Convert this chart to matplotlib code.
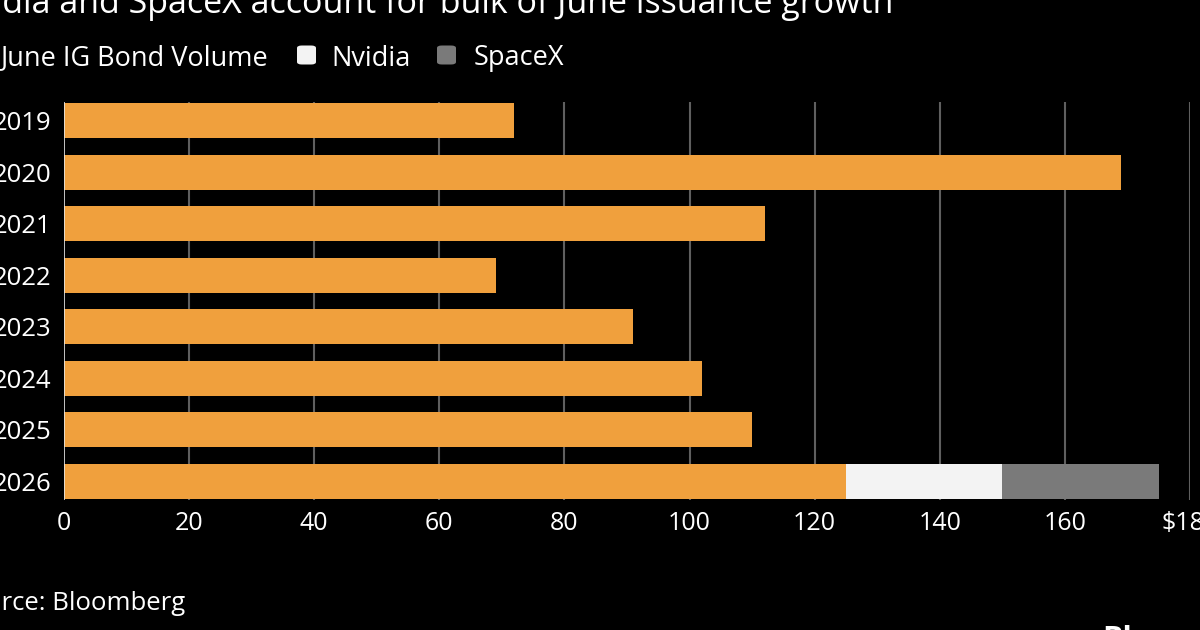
import matplotlib
matplotlib.use("Agg")
import matplotlib.pyplot as plt
from matplotlib.patches import FancyBboxPatch

plt.rcParams['font.family'] = ['Open Sans', 'DejaVu Sans']

years = ["2019", "2020", "2021", "2022", "2023", "2024", "2025", "2026"]
june_ig = [72, 169, 112, 69, 91, 102, 110, 125]
nvidia = [0, 0, 0, 0, 0, 0, 0, 25]
spacex = [0, 0, 0, 0, 0, 0, 0, 25]
xticks = [0, 20, 40, 60, 80, 100, 120, 140, 160, 180]
xticklabels = ["0", "20", "40", "60", "80", "100", "120", "140", "160", "$180"]

ORANGE = "#F0A03D"
WHITE = "#F3F3F3"
GRAY = "#7A7A7A"
BG = "#000000"

W, H = 1200, 630
fig = plt.figure(figsize=(12, 6.3), dpi=100, facecolor=BG)
ax = fig.add_axes([64 / W, 1 - 500 / H, (1190 - 64) / W, (500 - 102) / H], facecolor=BG)

ypos = list(range(len(years)))
bh = 0.68
ax.barh(ypos, june_ig, height=bh, color=ORANGE, zorder=3)
left2 = [a for a in june_ig]
ax.barh(ypos, nvidia, left=left2, height=bh, color=WHITE, zorder=3)
left3 = [a + b for a, b in zip(june_ig, nvidia)]
ax.barh(ypos, spacex, left=left3, height=bh, color=GRAY, zorder=3)

ax.set_xlim(0, 180)
ax.set_ylim(len(years) - 1 + 0.36, -0.36)
ax.set_xticks(xticks)
ax.set_xticklabels(xticklabels)
ax.set_yticks(ypos)
ax.set_yticklabels(years)
for x in xticks[1:]:
    ax.axvline(x, color="#5f5f5f", lw=1.5, zorder=1)
ax.axvline(0, color="#e6e6e6", lw=1.2, zorder=4)
for s in ax.spines.values():
    s.set_visible(False)
ax.tick_params(axis="both", length=0, colors="white")
ax.tick_params(axis="x", labelsize=18, pad=8)
ax.tick_params(axis="y", labelsize=18.5, pad=9)

# title (cut at left in reference)
fig.text(893 / W, 1 - 13 / H, "Nvidia and SpaceX account for bulk of June issuance growth",
         ha="right", va="baseline", color="white", fontsize=24.5)

# legend
leg_y = 1 - 55 / H
def sq(x0, color):
    p = FancyBboxPatch((x0 / W, leg_y - 9.5 / H), 19 / W, 19 / H,
                       boxstyle="round,pad=0,rounding_size=0.004",
                       transform=fig.transFigure, facecolor=color, edgecolor="none")
    fig.patches.append(p)
sq(-40, ORANGE)
fig.text(268 / W, leg_y, "June IG Bond Volume", ha="right", va="center_baseline", color="white", fontsize=19.5)
sq(297, WHITE)
fig.text(331 / W, leg_y, "Nvidia", ha="left", va="center_baseline", color="white", fontsize=19.5)
sq(437, GRAY)
fig.text(474 / W, leg_y, "SpaceX", ha="left", va="center_baseline", color="white", fontsize=19.5)

fig.text(185 / W, 1 - 610 / H, "Source: Bloomberg", ha="right", va="baseline", color="white", fontsize=18.5)
fig.text(1102 / W, 1 - 625 / H, "Bloomberg", ha="left", va="top", color="white", fontsize=22, fontweight="bold")

fig.savefig("out.png", dpi=100, facecolor=BG)
